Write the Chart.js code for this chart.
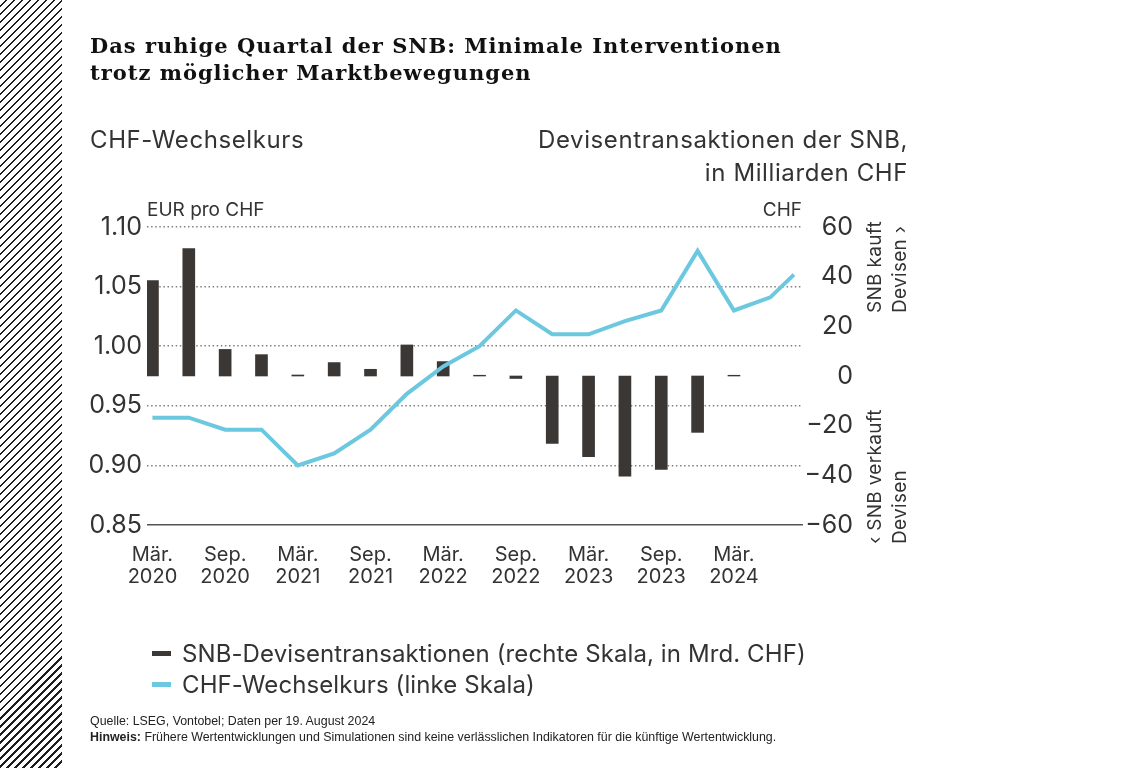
<!DOCTYPE html>
<html lang="de">
<head>
<meta charset="utf-8">
<title>SNB Devisentransaktionen und CHF-Wechselkurs</title>
<script src="https://cdn.jsdelivr.net/npm/chart.js@4.4.1/dist/chart.umd.min.js"></script>
<style>
  html, body { margin: 0; padding: 0; background: #fff; }
  body { width: 1122px; height: 768px; position: relative; overflow: hidden;
         font-family: Inter, "Liberation Sans", sans-serif; color: #2f2f2f; }
  .hatch { position: absolute; left: 0; top: 0; width: 62px; height: 768px;
           background: repeating-linear-gradient(-45deg, #fff 0, #fff 4.2px, #1e1e1e 4.2px, #1e1e1e 5.66px); }
  #chart { position: absolute; left: 0; top: 0; }
  .abs { position: absolute; white-space: nowrap; }
  .title { left: 90px; top: 32px; font: bold 21px/27px "DejaVu Serif", serif; letter-spacing: 1px; color: #111; }
  .sub { top: 123px; font-size: 24px; line-height: 33px; letter-spacing: 0.6px; color: #333; }
  .unit { top: 198px; font-size: 19px; color: #333; }
  .rot { left: 862px; font-size: 19px; line-height: 25px; letter-spacing: 0.3px; color: #333;
         transform-origin: 0 0; transform: rotate(-90deg); }
  .legend { left: 152px; top: 638px; font-size: 24px; line-height: 31px; letter-spacing: 0.1px; color: #333; }
  .legend .key { display: inline-block; width: 19px; height: 5px; margin-right: 11px; vertical-align: 6px; }
  .note { left: 90px; top: 713px; font: 12.4px/16px "Liberation Sans", Arial, sans-serif; color: #222; }
</style>
</head>
<body>
<div class="hatch"></div>
<canvas id="chart" width="1122" height="768"></canvas>

<div class="abs title">Das ruhige Quartal der SNB: Minimale Interventionen<br>trotz möglicher Marktbewegungen</div>
<div class="abs sub" style="left:90px">CHF-Wechselkurs</div>
<div class="abs sub" style="right:214px; text-align:right">Devisentransaktionen der SNB,<br>in Milliarden CHF</div>
<div class="abs unit" style="left:147px">EUR pro CHF</div>
<div class="abs unit" style="right:320px">CHF</div>
<div class="abs rot" style="top:313px">SNB kauft<br>Devisen ›</div>
<div class="abs rot" style="top:544px">‹ SNB verkauft<br>Devisen</div>

<div class="abs legend">
  <div><span class="key" style="background:#3a3734"></span>SNB-Devisentransaktionen (rechte Skala, in Mrd. CHF)</div>
  <div><span class="key" style="background:#6cc8df"></span>CHF-Wechselkurs (linke Skala)</div>
</div>

<div class="abs note">Quelle: LSEG, Vontobel; Daten per 19. August 2024<br><b>Hinweis:</b> Frühere Wertentwicklungen und Simulationen sind keine verlässlichen Indikatoren für die künftige Wertentwicklung.</div>

<script>
// Quartale ab Q1 2020 (Position 0 = Mär. 2020), letzter Punkt = 19. Aug. 2024
const quarters = ['Q1 2020','Q2 2020','Q3 2020','Q4 2020','Q1 2021','Q2 2021','Q3 2021','Q4 2021',
                  'Q1 2022','Q2 2022','Q3 2022','Q4 2022','Q1 2023','Q2 2023','Q3 2023','Q4 2023','Q1 2024'];
// SNB-Devisentransaktionen, Mrd. CHF (rechte Skala)
const snbFx = [38.4, 51.3, 10.7, 8.6, 0.4, 5.4, 2.7, 12.5, 5.8, 0.3, -1.0, -27.1, -32.5, -40.3, -37.6, -22.7, 0.3];

// CHF-Wechselkurs, EUR pro CHF (linke Skala)
const fxPos  = [0, 1, 2, 3, 4, 5, 6, 7, 8, 9, 10, 11, 12, 13, 14, 15, 16, 17, 17.65];
const fxRate = [0.940, 0.940, 0.930, 0.930, 0.900, 0.910, 0.930, 0.960, 0.983, 1.000,
                1.030, 1.010, 1.010, 1.021, 1.030, 1.080, 1.030, 1.041, 1.060];

// Achsen
const xTickPos = [0, 2, 4, 6, 8, 10, 12, 14, 16];
const xTickLabels = [['Mär.','2020'], ['Sep.','2020'], ['Mär.','2021'], ['Sep.','2021'], ['Mär.','2022'],
                     ['Sep.','2022'], ['Mär.','2023'], ['Sep.','2023'], ['Mär.','2024']];
const leftTicks = [0.85, 0.90, 0.95, 1.00, 1.05, 1.10];
const rightTicks = [-60, -40, -20, 0, 20, 40, 60];

const tickFont = { family: 'Inter', size: 25 };
const isBase = c => c.tick && Math.abs(c.tick.value - 0.85) < 1e-6;

new Chart(document.getElementById('chart'), {
  type: 'line',
  data: {
    datasets: [
      {
        type: 'line',
        label: 'CHF-Wechselkurs (linke Skala)',
        data: fxPos.map((x, i) => ({ x: x, y: fxRate[i] })),
        borderColor: '#6cc8df',
        borderWidth: 4,
        pointRadius: 0,
        tension: 0,
        yAxisID: 'y',
        order: 0
      },
      {
        type: 'bar',
        label: 'SNB-Devisentransaktionen (rechte Skala, in Mrd. CHF)',
        data: snbFx.map((v, i) => ({ x: i, y: v })),
        backgroundColor: '#3a3734',
        barThickness: 12,
        yAxisID: 'y1',
        order: 1
      }
    ]
  },
  options: {
    responsive: false,
    animation: false,
    devicePixelRatio: 1,
    layout: { padding: { left: 80, right: 269, top: 227, bottom: 173 } },
    plugins: { legend: { display: false }, tooltip: { enabled: false } },
    scales: {
      x: {
        type: 'linear', min: -0.15, max: 17.9, offset: false,
        afterBuildTicks: s => { s.ticks = xTickPos.map(v => ({ value: v })); },
        afterFit: s => { s.height = 70; },
        grid: { display: false, drawTicks: false },
        border: { display: false },
        ticks: {
          autoSkip: false, maxRotation: 0, padding: 19, color: '#333',
          font: { family: 'Inter', size: 20, lineHeight: 1.1 },
          callback: (v, i) => xTickLabels[i]
        }
      },
      y: {
        position: 'left', min: 0.85, max: 1.10,
        afterBuildTicks: s => { s.ticks = leftTicks.map(v => ({ value: v })); },
        afterFit: s => { s.width = 67; },
        grid: {
          drawTicks: false,
          color: c => isBase(c) ? '#555' : '#808080',
          lineWidth: 1.5
        },
        border: {
          display: false,
          dash: c => isBase(c) ? [] : [1.5, 2.6]
        },
        ticks: { padding: 5, color: '#333', font: tickFont, callback: v => v.toFixed(2) }
      },
      y1: {
        position: 'right', min: -60, max: 60,
        afterBuildTicks: s => { s.ticks = rightTicks.map(v => ({ value: v })); },
        afterFit: s => { s.width = 50; },
        grid: { display: false, drawTicks: false },
        border: { display: false },
        ticks: {
          padding: 4, crossAlign: 'far', color: '#333', font: tickFont,
          callback: v => v < 0 ? '\u2212' + Math.abs(v) : String(v)
        }
      }
    }
  }
});
</script>
</body>
</html>
